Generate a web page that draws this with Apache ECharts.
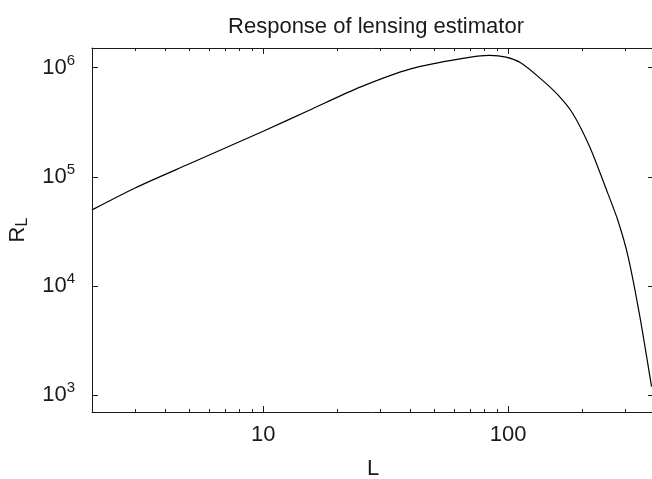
<!DOCTYPE html>
<html>
<head>
<meta charset="utf-8">
<script src="https://cdn.jsdelivr.net/npm/echarts@6/dist/echarts.min.js"></script>
<style>
  html, body { margin: 0; padding: 0; background: #fff; }
  #chart { width: 652px; height: 479px; }
</style>
</head>
<body>
<div id="chart"></div>
<script>
// multipole L and estimator response R_L
const ells = [2, 3, 5, 10, 15.5, 25, 40, 63.5, 84, 98, 112, 134.5, 160, 183.6, 215, 252, 280, 309, 345, 385]
const response = [49800, 79100, 131500, 261000, 409000, 665000, 973000, 1200000, 1290000, 1245000, 1110000,
  805000, 560000, 380000, 189000, 76000, 40400, 18500, 5250, 1200]

const xMajor = [10, 100]
const xMinor = [3, 4, 5, 6, 7, 8, 9, 20, 30, 40, 50, 60, 70, 80, 90, 200, 300]
const yMajor = [1e3, 1e4, 1e5, 1e6]

const xMin = 2
const xMax = 394
const yMin = 703
const yMax = 1.51e6

const font = 'Liberation Sans, Arial, Helvetica, sans-serif'
const ink = '#1a1a1a'

function xAxisOf(position, ticks, len, showLine, showLabel) {
  return {
    type: 'log',
    logBase: 10,
    position: position,
    min: xMin,
    max: xMax,
    axisLine: { show: showLine, onZero: false, lineStyle: { color: ink, width: 1 } },
    axisTick: { show: true, inside: true, length: len, customValues: ticks, lineStyle: { color: ink, width: 1 } },
    axisLabel: {
      show: showLabel,
      customValues: xMajor,
      margin: 12,
      color: ink,
      fontFamily: font,
      fontSize: 22
    },
    splitLine: { show: false },
    minorTick: { show: false }
  }
}

function yAxisOf(position, showLine, showLabel) {
  return {
    type: 'log',
    logBase: 10,
    position: position,
    min: yMin,
    max: yMax,
    axisLine: { show: showLine, lineStyle: { color: ink, width: 1 } },
    axisTick: { show: true, inside: true, length: 6, customValues: yMajor, lineStyle: { color: ink, width: 1 } },
    axisLabel: {
      show: showLabel,
      customValues: yMajor,
      margin: 17,
      formatter: (v) => '{b|10}{s|' + Math.round(Math.log10(v)) + '}',
      rich: {
        b: { fontFamily: font, fontSize: 22, color: ink },
        s: { fontFamily: font, fontSize: 15, color: ink, padding: [0, 0, 14, 0] }
      }
    },
    splitLine: { show: false }
  }
}

const chart = echarts.init(document.getElementById('chart'), null, { renderer: 'canvas' })

const xAxes = [
  xAxisOf('bottom', xMajor, 6, true, true),
  xAxisOf('bottom', xMinor, 3, false, false),
  xAxisOf('top', xMajor, 6, true, false),
  xAxisOf('top', xMinor, 3, false, false)
]
xAxes[0].name = 'L'
xAxes[0].nameLocation = 'middle'
xAxes[0].nameGap = 46
xAxes[0].nameTextStyle = { fontFamily: font, fontSize: 22, color: ink }

const yAxes = [yAxisOf('left', true, true), yAxisOf('right', true, false)]
yAxes[0].name = '{r|R}{s|L}'
yAxes[0].nameLocation = 'middle'
yAxes[0].nameRotate = 90
yAxes[0].nameGap = 61
yAxes[0].nameTextStyle = {
  rich: {
    r: { fontFamily: font, fontSize: 22, color: ink },
    s: { fontFamily: font, fontSize: 16, color: ink, padding: [10, 0, 0, 0] }
  }
}

chart.setOption({
  animation: false,
  backgroundColor: '#fff',
  title: {
    text: 'Response of lensing estimator',
    left: 371,
    top: 11,
    textAlign: 'center',
    textStyle: { fontFamily: font, fontSize: 22, fontWeight: 'normal', color: ink }
  },
  grid: { left: 92, right: -2, top: 48, bottom: 67, containLabel: false, outerBoundsMode: 'none' },
  xAxis: xAxes,
  yAxis: yAxes,
  series: [
    {
      type: 'line',
      xAxisIndex: 0,
      yAxisIndex: 0,
      data: ells.map((l, i) => [l, response[i]]),
      showSymbol: false,
      smooth: 0.25,
      clip: true,
      lineStyle: { color: '#000', width: 1.2 }
    }
  ]
})
</script>
</body>
</html>
